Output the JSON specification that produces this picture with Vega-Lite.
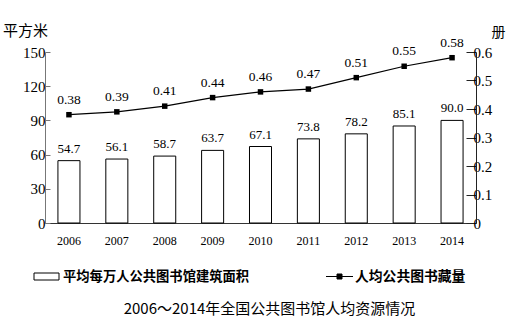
{
  "$schema": "https://vega.github.io/schema/vega-lite/v6.json",
  "width": 431,
  "height": 171,
  "autosize": {"type": "none"},
  "padding": {"left": 45, "top": 52, "right": 48, "bottom": 113},
  "background": "white",
  "title": {
    "text": "2006～2014年全国公共图书馆人均资源情况",
    "orient": "bottom",
    "anchor": "middle",
    "offset": 18,
    "dx": 9,
    "font": "Noto Sans CJK SC",
    "fontSize": 15,
    "fontWeight": "normal",
    "color": "black"
  },
  "config": {
    "view": {"stroke": null},
    "axis": {"grid": false, "labelColor": "black", "labelFont": "Liberation Serif"}
  },
  "data": {
    "values": [
      {"year": "2006", "area": 54.7, "books": 0.38},
      {"year": "2007", "area": 56.1, "books": 0.39},
      {"year": "2008", "area": 58.7, "books": 0.41},
      {"year": "2009", "area": 63.7, "books": 0.44},
      {"year": "2010", "area": 67.1, "books": 0.46},
      {"year": "2011", "area": 73.8, "books": 0.47},
      {"year": "2012", "area": 78.2, "books": 0.51},
      {"year": "2013", "area": 85.1, "books": 0.55},
      {"year": "2014", "area": 90.0, "books": 0.58}
    ]
  },
  "encoding": {
    "x": {
      "field": "year",
      "type": "nominal",
      "scale": {"paddingInner": 0.54, "paddingOuter": 0.27},
      "axis": {
        "title": null,
        "labelAngle": 0,
        "ticks": false,
        "labelFontSize": 12,
        "labelPadding": 12,
        "domainColor": "#333",
        "domainWidth": 1
      }
    }
  },
  "layer": [
    {
      "encoding": {
        "y": {
          "field": "area",
          "type": "quantitative",
          "scale": {"domain": [0, 150]},
          "axis": {
            "values": [0, 30, 60, 90, 120, 150],
            "orient": "left",
            "title": "平方米",
            "titleAngle": 0,
            "titleX": -20,
            "titleY": -22,
            "titleAlign": "center",
            "titleBaseline": "middle",
            "titleFont": "Noto Sans CJK SC",
            "titleFontSize": 15,
            "titleFontWeight": "normal",
            "titleColor": "black",
            "labelFontSize": 15,
            "tickSize": -5,
            "labelPadding": 5,
            "tickColor": "#777",
            "domainColor": "#777"
          }
        }
      },
      "layer": [
        {
          "mark": {"type": "bar", "stroke": "black", "strokeWidth": 1},
          "encoding": {
            "fill": {
              "datum": "平均每万人公共图书馆建筑面积",
              "type": "nominal",
              "scale": {"range": ["white"]},
              "legend": {
                "title": null,
                "orient": "none",
                "legendX": -9,
                "legendY": 214,
                "padding": 0,
                "symbolType": "M-1.25,-0.35H1.25V0.35H-1.25Z",
                "symbolSize": 400,
                "symbolStrokeColor": "black",
                "symbolStrokeWidth": 1,
                "labelOffset": 6,
                "labelFont": "Noto Sans CJK SC",
                "labelFontSize": 13.3,
                "labelFontWeight": "bold",
                "labelColor": "black",
                "labelLimit": 400
              }
            }
          }
        },
        {
          "mark": {"type": "text", "baseline": "middle", "dy": -12, "font": "Liberation Serif", "fontSize": 13, "color": "black"},
          "encoding": {
            "text": {"field": "area", "type": "quantitative", "format": ".1f"}
          }
        }
      ]
    },
    {
      "encoding": {
        "y": {
          "field": "books",
          "type": "quantitative",
          "scale": {"domain": [0, 0.6]},
          "axis": {
            "orient": "right",
            "values": [0, 0.1, 0.2, 0.3, 0.4, 0.5, 0.6],
            "format": "~g",
            "title": "册",
            "titleAngle": 0,
            "titleX": 22,
            "titleY": -20,
            "titleAlign": "center",
            "titleBaseline": "middle",
            "titleFont": "Noto Sans CJK SC",
            "titleFontSize": 14,
            "titleFontWeight": "normal",
            "titleColor": "black",
            "labelFontSize": 15,
            "tickSize": -10,
            "labelPadding": 7,
            "tickColor": "#222",
            "domainColor": "#222"
          }
        }
      },
      "layer": [
        {
          "mark": {"type": "line", "strokeWidth": 1.2},
          "encoding": {
            "stroke": {
              "datum": "人均公共图书藏量",
              "type": "nominal",
              "scale": {"range": ["black"]},
              "legend": {
                "title": null,
                "orient": "none",
                "legendX": 284,
                "legendY": 214,
                "padding": 0,
                "symbolType": "M-1.35,0H1.35M-0.25,-0.25H0.25V0.25H-0.25Z",
                "symbolSize": 400,
                "symbolStrokeColor": "black",
                "symbolFillColor": "black",
                "symbolStrokeWidth": 1,
                "labelOffset": 5,
                "labelFont": "Noto Sans CJK SC",
                "labelFontSize": 13.8,
                "labelFontWeight": "bold",
                "labelColor": "black",
                "labelLimit": 400
              }
            }
          }
        },
        {
          "mark": {"type": "point", "shape": "square", "filled": true, "color": "black", "size": 30, "opacity": 1}
        },
        {
          "mark": {"type": "text", "baseline": "middle", "dy": -15, "font": "Liberation Serif", "fontSize": 13.5, "color": "black"},
          "encoding": {
            "text": {"field": "books", "type": "quantitative", "format": ".2f"}
          }
        }
      ]
    }
  ],
  "resolve": {"scale": {"y": "independent", "fill": "independent", "stroke": "independent"}}
}
